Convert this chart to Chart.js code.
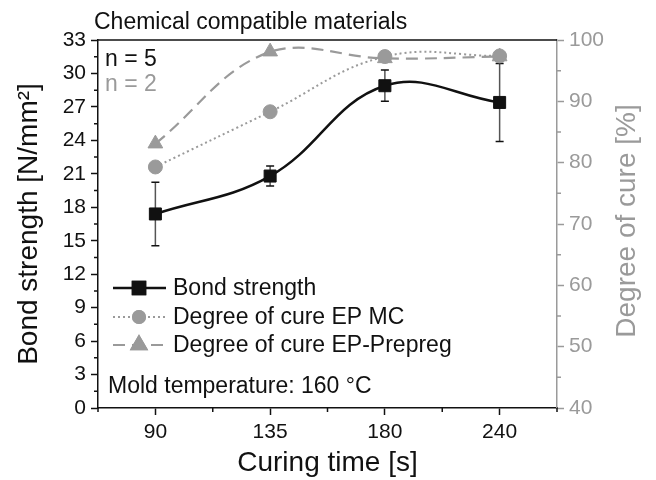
<!DOCTYPE html>
<html lang="en">
<head>
  <meta charset="UTF-8">
  <title>Bond strength and degree of cure</title>
  <script src="https://cdn.jsdelivr.net/npm/chart.js"></script>
  <style>
    body {
      margin: 0;
      background: white;
    }
    .wrap {
      width: 656px;
      height: 480px;
    }
  </style>
</head>
<body>

<div class="wrap">
  <canvas id="cureChart"></canvas>
</div>

<script>
// values
const curingTimes = ['90', '135', '180', '240'];
const bondStrength = [17.4, 20.8, 28.9, 27.4];
const bondError = [2.85, 0.9, 1.4, 3.5];
const cureEpMc = [79.3, 88.3, 97.3, 97.4];
const cureEpPrepreg = [83.1, 98.1, 97.0, 97.3];

const FONT = 'Liberation Sans, Arial, sans-serif';
const GRAY = '#9a9a9a';
const BLACK = '#111111';

Chart.defaults.font.family = FONT;
Chart.defaults.color = BLACK;

// error bars on the bond strength series
const errorBars = {
  id: 'errorBars',
  beforeDatasetsDraw(chart) {
    const ctx = chart.ctx;
    const meta = chart.getDatasetMeta(0);
    const y = chart.scales.y;
    ctx.save();
    meta.data.forEach((pt, i) => {
      const top = y.getPixelForValue(bondStrength[i] + bondError[i]);
      const bot = y.getPixelForValue(bondStrength[i] - bondError[i]);
      ctx.strokeStyle = '#555';
      ctx.lineWidth = 1.5;
      ctx.beginPath();
      ctx.moveTo(pt.x, top);
      ctx.lineTo(pt.x, bot);
      ctx.stroke();
      ctx.strokeStyle = BLACK;
      ctx.beginPath();
      ctx.moveTo(pt.x - 4, top); ctx.lineTo(pt.x + 4, top);
      ctx.moveTo(pt.x - 4, bot); ctx.lineTo(pt.x + 4, bot);
      ctx.stroke();
    });
    ctx.restore();
  }
};

// minor ticks, top frame, right title, annotations and legend
const decorations = {
  id: 'decorations',
  afterDraw(chart) {
    const ctx = chart.ctx;
    const area = chart.chartArea;
    const {x, y, y1} = chart.scales;
    ctx.save();

    // top frame
    ctx.strokeStyle = BLACK;
    ctx.lineWidth = 1.5;
    ctx.beginPath();
    ctx.moveTo(area.left, area.top);
    ctx.lineTo(area.right, area.top);
    ctx.stroke();

    // minor ticks
    ctx.beginPath();
    for (let v = 1.5; v < 33; v += 3) {
      const p = y.getPixelForValue(v);
      ctx.moveTo(area.left, p); ctx.lineTo(area.left - 4, p);
    }
    for (let i = -0.5; i < curingTimes.length; i += 1) {
      const p = x.getPixelForValue(i);
      ctx.moveTo(p, area.bottom); ctx.lineTo(p, area.bottom + 4);
    }
    ctx.stroke();
    ctx.strokeStyle = GRAY;
    ctx.beginPath();
    for (let v = 45; v < 100; v += 10) {
      const p = y1.getPixelForValue(v);
      ctx.moveTo(area.right, p); ctx.lineTo(area.right + 4, p);
    }
    ctx.stroke();

    // right axis title, reading bottom to top
    ctx.save();
    ctx.translate(627, 221);
    ctx.rotate(-Math.PI / 2);
    ctx.font = '28px ' + FONT;
    ctx.fillStyle = GRAY;
    ctx.textAlign = 'center';
    ctx.textBaseline = 'middle';
    ctx.fillText('Degree of cure [%]', 0, 0);
    ctx.restore();

    // annotations
    ctx.font = '23px ' + FONT;
    ctx.textAlign = 'left';
    ctx.textBaseline = 'alphabetic';
    ctx.fillStyle = BLACK;
    ctx.fillText('Chemical compatible materials', 94, 29);
    ctx.fillText('n = 5', 105, 66);
    ctx.fillText('Mold temperature: 160 °C', 108, 393);
    ctx.fillStyle = GRAY;
    ctx.fillText('n = 2', 105, 91);

    // legend
    const rows = [288, 317, 345];
    chart.data.datasets.forEach((ds, i) => {
      const ry = rows[i];
      ctx.strokeStyle = ds.borderColor;
      ctx.lineWidth = ds.borderWidth;
      ctx.setLineDash(ds.borderDash || []);
      ctx.beginPath();
      ctx.moveTo(113, ry);
      ctx.lineTo(166, ry);
      ctx.stroke();
      ctx.setLineDash([]);
      Chart.helpers.drawPoint(ctx, {
        pointStyle: ds.pointStyle,
        radius: ds.pointStyle === 'circle' ? 6 : ds.pointRadius,
        rotation: 0,
        borderWidth: 1
      }, 139, ry);
      ctx.fillStyle = ds.pointBackgroundColor;
      ctx.strokeStyle = ds.pointBorderColor;
      ctx.fill();
      ctx.stroke();
      ctx.fillStyle = BLACK;
      ctx.textBaseline = 'middle';
      ctx.fillText(ds.label, 173, ry + 1);
    });

    ctx.restore();
  }
};

new Chart(document.getElementById('cureChart'), {
  type: 'line',
  data: {
    labels: curingTimes,
    datasets: [{
      label: 'Bond strength',
      data: bondStrength,
      yAxisID: 'y',
      borderColor: BLACK,
      borderWidth: 2.5,
      tension: 0.4,
      pointStyle: 'rect',
      pointRadius: 8.5,
      pointBackgroundColor: BLACK,
      pointBorderColor: BLACK,
      pointBorderWidth: 1,
      clip: false
    }, {
      label: 'Degree of cure EP MC',
      data: cureEpMc,
      yAxisID: 'y1',
      borderColor: GRAY,
      borderWidth: 2,
      borderDash: [2, 3],
      tension: 0.4,
      pointStyle: 'circle',
      pointRadius: 7,
      pointBackgroundColor: GRAY,
      pointBorderColor: GRAY,
      pointBorderWidth: 1,
      clip: false
    }, {
      label: 'Degree of cure EP-Prepreg',
      data: cureEpPrepreg,
      yAxisID: 'y1',
      borderColor: GRAY,
      borderWidth: 2.2,
      borderDash: [12, 7],
      tension: 0.4,
      pointStyle: 'triangle',
      pointRadius: 8.5,
      pointBackgroundColor: GRAY,
      pointBorderColor: GRAY,
      pointBorderWidth: 1,
      clip: false
    }]
  },
  options: {
    responsive: true,
    maintainAspectRatio: false,
    animation: false,
    layout: { padding: { top: 40 } },
    plugins: {
      legend: { display: false },
      tooltip: { enabled: false }
    },
    scales: {
      x: {
        type: 'category',
        offset: true,
        grid: { drawOnChartArea: false, tickLength: 7, tickColor: BLACK, tickWidth: 1.5 },
        border: { color: BLACK, width: 1.5 },
        ticks: { font: { size: 21 }, color: BLACK, padding: 5 },
        title: {
          display: true,
          text: 'Curing time [s]',
          font: { size: 28, lineHeight: 1 },
          color: BLACK,
          padding: { top: 0, bottom: 3 }
        },
        afterFit(scale) { scale.height = 72; }
      },
      y: {
        position: 'left',
        min: 0,
        max: 33,
        grid: { drawOnChartArea: false, tickLength: 7, tickColor: BLACK, tickWidth: 1.5 },
        border: { color: BLACK, width: 1.5 },
        ticks: { stepSize: 3, font: { size: 21 }, color: BLACK, padding: 5 },
        title: {
          display: true,
          text: 'Bond strength [N/mm²]',
          font: { size: 28, lineHeight: 1 },
          color: BLACK,
          padding: { top: 15, bottom: 0 }
        },
        afterFit(scale) { scale.width = 98; }
      },
      y1: {
        position: 'right',
        min: 40,
        max: 100,
        grid: { drawOnChartArea: false, tickLength: 7, tickColor: GRAY, tickWidth: 1.5 },
        border: { color: GRAY, width: 1.5 },
        ticks: { stepSize: 10, font: { size: 21 }, color: GRAY, padding: 5 },
        afterFit(scale) { scale.width = 99; }
      }
    }
  },
  plugins: [errorBars, decorations]
});
</script>

</body>
</html>
